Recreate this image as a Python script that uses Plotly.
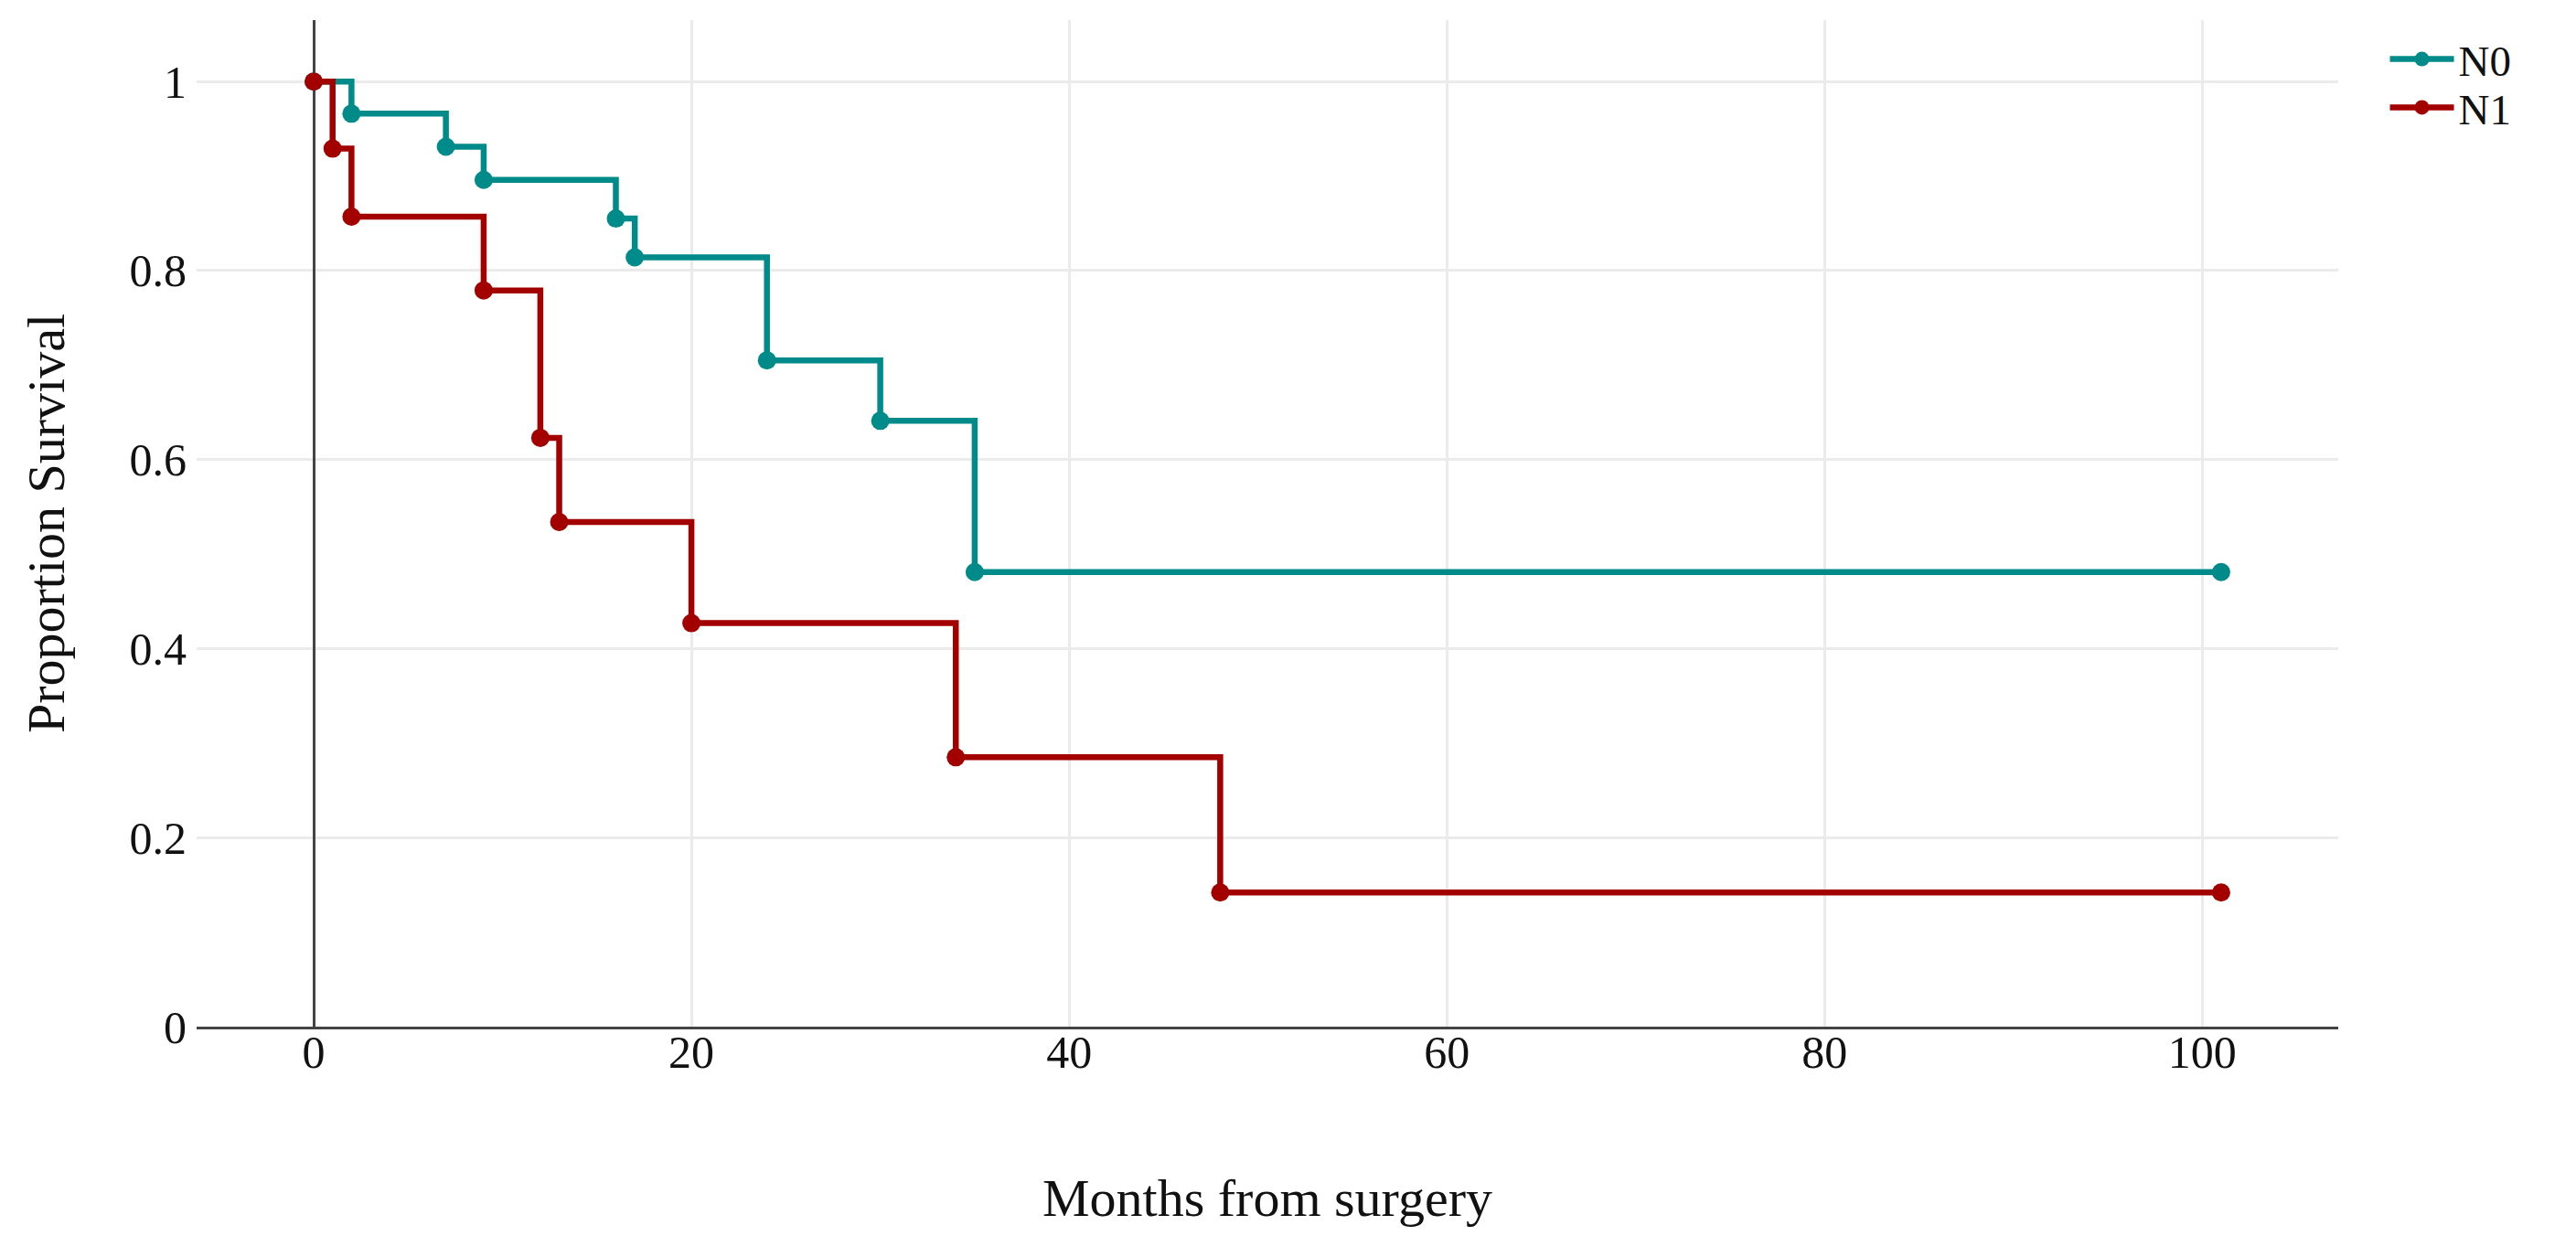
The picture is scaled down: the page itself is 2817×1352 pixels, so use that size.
import plotly.graph_objects as go

# Kaplan-Meier step data
n0_months = [0, 2, 7, 9, 16, 17, 24, 30, 35, 101]
n0_surv = [1.0, 0.966, 0.931, 0.896, 0.855, 0.814, 0.705, 0.641, 0.481, 0.481]

n1_months = [0, 1, 2, 9, 12, 13, 20, 34, 48, 101]
n1_surv = [1.0, 0.929, 0.857, 0.779, 0.623, 0.534, 0.427, 0.285, 0.142, 0.142]

x_ticks = [0, 20, 40, 60, 80, 100]
y_ticks = [0, 0.2, 0.4, 0.6, 0.8, 1]
y_tick_labels = ["0", "0.2", "0.4", "0.6", "0.8", "1"]

TEAL = "#008b8b"
RED = "#a30000"
FONT = "Liberation Serif"

fig = go.Figure()
fig.add_trace(go.Scatter(
    x=n0_months, y=n0_surv, name="N0", mode="lines+markers",
    line=dict(color=TEAL, width=6.5, shape="hv"),
    marker=dict(color=TEAL, size=20),
    legend="legend",
))
fig.add_trace(go.Scatter(
    x=n1_months, y=n1_surv, name="N1", mode="lines+markers",
    line=dict(color=RED, width=6.5, shape="hv"),
    marker=dict(color=RED, size=20),
    legend="legend2",
))

legend_style = dict(xanchor="left", yanchor="top", itemwidth=70,
                    font=dict(family=FONT, size=47, color="#111"),
                    bgcolor="rgba(0,0,0,0)")

fig.update_layout(
    width=2817, height=1352,
    margin=dict(l=207, r=268, t=14, b=237),
    paper_bgcolor="white", plot_bgcolor="white",
    font=dict(family=FONT, size=50, color="#111"),
    showlegend=True,
    legend=dict(x=1.022, y=0.995, **legend_style),
    legend2=dict(x=1.022, y=0.947, **legend_style),
)
fig.update_xaxes(
    range=[-6.2, 107.2],
    tickvals=x_ticks,
    showgrid=True, gridcolor="#ebebeb", gridwidth=3,
    zeroline=True, zerolinecolor="#444", zerolinewidth=3,
    showline=True, linecolor="#444", linewidth=3,
    ticks="", ticklabelstandoff=-18,
    tickfont=dict(family=FONT, size=50, color="#111"),
    title=dict(text="Months from surgery", font=dict(family=FONT, size=58, color="#111"), standoff=112),
    automargin=False,
)
fig.update_yaxes(
    range=[0, 1.065],
    tickvals=y_ticks, ticktext=y_tick_labels,
    showgrid=True, gridcolor="#ebebeb", gridwidth=3,
    zeroline=False, showline=False,
    ticks="", ticklabelstandoff=10,
    tickfont=dict(family=FONT, size=50, color="#111"),
    title=dict(text="Proportion Survival", font=dict(family=FONT, size=58, color="#111"), standoff=52),
    automargin=False,
)

fig.write_html("out.html")
